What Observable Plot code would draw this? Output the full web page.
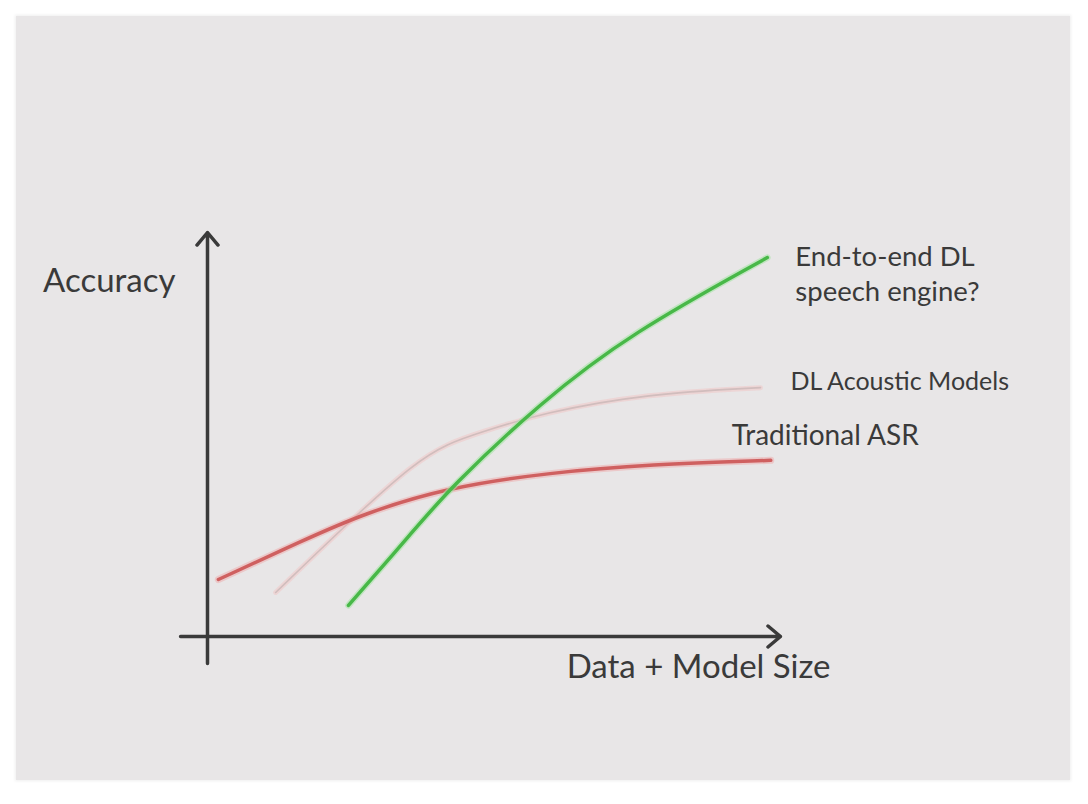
<!DOCTYPE html>
<html>
<head>
<meta charset="utf-8">
<script src="https://cdn.jsdelivr.net/npm/d3@7"></script>
<script src="https://cdn.jsdelivr.net/npm/@observablehq/plot@0.6"></script>
<style>
  html, body { margin: 0; padding: 0; background: #ffffff; }
  #wrap { position: relative; width: 1088px; height: 804px; overflow: hidden; }
  #panel { position: absolute; left: 16px; top: 16px; width: 1054px; height: 764px;
           background: #e8e6e7; box-shadow: 0 0 3px 1px #efefef; }
  #chart { position: absolute; left: 0; top: 0; }
</style>
</head>
<body>
<div id="wrap"><div id="panel"></div><div id="chart"></div></div>
<script>
// Conceptual chart: x = data + model size (0–100), y = accuracy (0–100)
const tradX = [1.9, 16.7, 27.2, 41.9, 59.9, 77.3, 98.3];
const tradY = [14.1, 23.8, 30.4, 36.9, 40.6, 42.6, 43.6];

const acousticX = [11.9, 26.2, 36.0, 41.9, 47.6, 58.6, 76.8, 96.5];
const acousticY = [10.9, 30.4, 42.8, 47.8, 50.5, 55.4, 60.1, 61.6];

const e2eX = [24.6, 36.0, 42.4, 58.1, 73.8, 97.7];
const e2eY = [7.7, 26.2, 36.9, 57.9, 75.0, 93.8];

const seriesNames = ["Traditional ASR", "DL Acoustic Models", "End-to-end DL\nspeech engine?"];
const axisTitles = ["Accuracy", "Data + Model Size"];

const toRows = (xs, ys) => xs.map((x, i) => ({x, y: ys[i]}));
const trad = toRows(tradX, tradY);
const acoustic = toRows(acousticX, acousticY);
const e2e = toRows(e2eX, e2eY);
const last = a => a[a.length - 1];

const font = "Lato, 'Open Sans', sans-serif";
const ink = "#3a3a3a";
const curve = "basis";

const plot = Plot.plot({
  width: 1088,
  height: 804,
  marginLeft: 207,
  marginRight: 308,
  marginTop: 232,
  marginBottom: 168,
  x: {domain: [0, 100], axis: null},
  y: {domain: [0, 100], axis: null},
  style: {background: "transparent", overflow: "visible"},
  marks: [
    // axes
    Plot.arrow([{}], {x1: -4.7, y1: 0, x2: 100, y2: 0, stroke: ink, strokeWidth: 3.5,
      headLength: 7, headAngle: 80}),
    Plot.arrow([{}], {x1: 0, y1: -6.7, x2: 0, y2: 100, stroke: ink, strokeWidth: 3.5,
      headLength: 7, headAngle: 80}),
    // curves
    Plot.line(acoustic, {x: "x", y: "y", curve, stroke: "#f2c4c4", strokeWidth: 5, strokeOpacity: 0.5}),
    Plot.line(acoustic, {x: "x", y: "y", curve, stroke: "#c9b6b6", strokeWidth: 1.6, strokeOpacity: 0.8}),
    Plot.line(trad, {x: "x", y: "y", curve, stroke: "#f0a4a4", strokeWidth: 7, strokeOpacity: 0.45}),
    Plot.line(trad, {x: "x", y: "y", curve, stroke: "#cf6060", strokeWidth: 3.5}),
    Plot.line(e2e, {x: "x", y: "y", curve, stroke: "#a6e4a6", strokeWidth: 6.5, strokeOpacity: 0.6}),
    Plot.line(e2e, {x: "x", y: "y", curve, stroke: "#48b848", strokeWidth: 3.5}),
    // series labels
    Plot.text([last(trad)], {x: "x", y: "y", text: [seriesNames[0]], textAnchor: "start",
      dx: -39, dy: -24, fontSize: 28, fill: ink, fontFamily: font}),
    Plot.text([last(acoustic)], {x: "x", y: "y", text: [seriesNames[1]], textAnchor: "start",
      dx: 30, dy: -6, fontSize: 25, fill: ink, fontFamily: font}),
    Plot.text([last(e2e)], {x: "x", y: "y", text: [seriesNames[2]], textAnchor: "start",
      dx: 28, dy: 15, fontSize: 27.5, lineHeight: 1.27, fill: ink, fontFamily: font}),
    // axis titles
    Plot.text([{}], {x: 0, y: 100, text: [axisTitles[0]], textAnchor: "end",
      dx: -32, dy: 49, fontSize: 33, fill: ink, fontFamily: font}),
    Plot.text([{}], {x: 100, y: 0, text: [axisTitles[1]], textAnchor: "end",
      dx: 50, dy: 31, fontSize: 33, fill: ink, fontFamily: font})
  ]
});
document.getElementById("chart").appendChild(plot);
</script>
</body>
</html>
